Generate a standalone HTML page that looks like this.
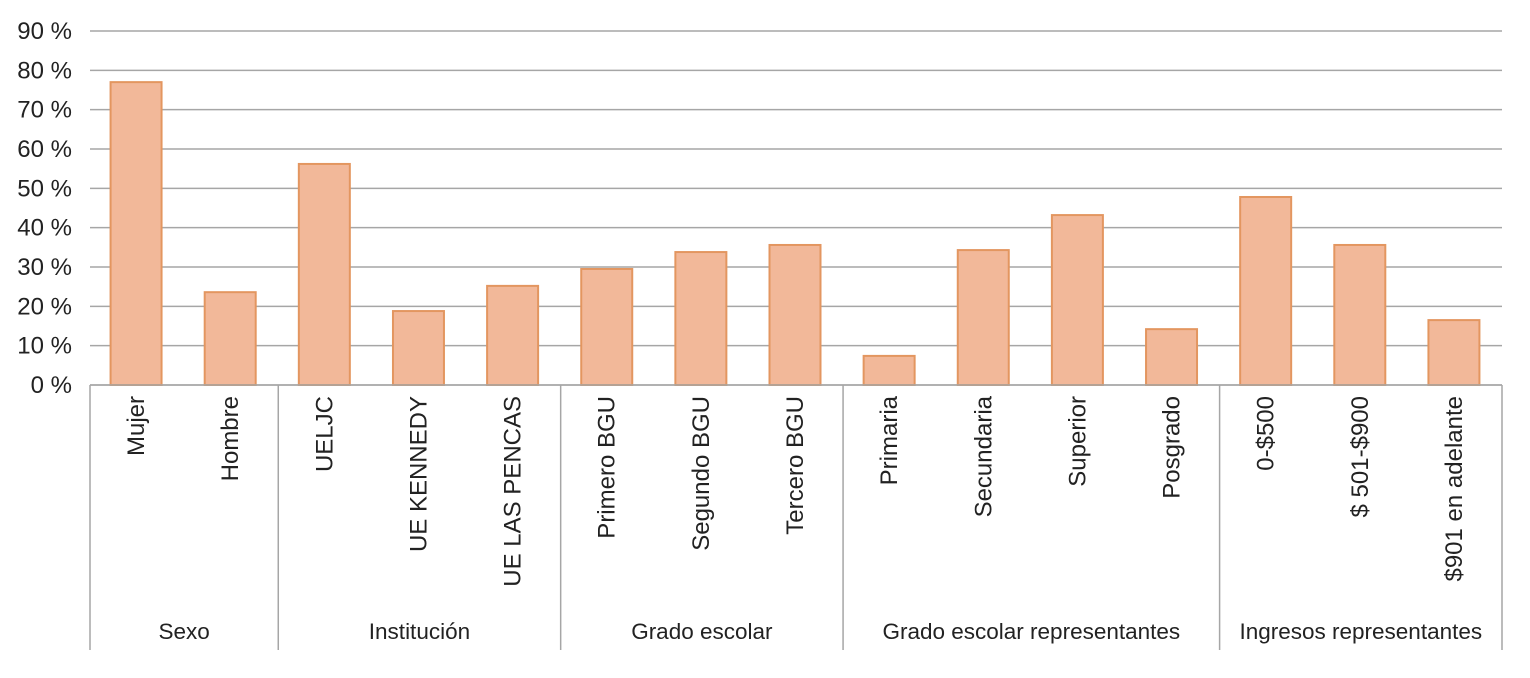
<!DOCTYPE html>
<html><head><meta charset="utf-8">
<style>
html,body{margin:0;padding:0;background:#fff;}
svg{display:block;font-family:"Liberation Sans",sans-serif;}
</style></head>
<body>
<svg id="chart" width="1530" height="678" viewBox="0 0 1530 678" xmlns="http://www.w3.org/2000/svg"></svg>
<script>
const categories = ["Mujer","Hombre","UELJC","UE KENNEDY","UE LAS PENCAS","Primero BGU","Segundo BGU","Tercero BGU","Primaria","Secundaria","Superior","Posgrado","0-$500","$ 501-$900","$901 en adelante"];
const values = [77, 23.6, 56.2, 18.8, 25.2, 29.5, 33.8, 35.6, 7.4, 34.3, 43.2, 14.2, 47.8, 35.6, 16.5];
const groupNames = ["Sexo","Institución","Grado escolar","Grado escolar representantes","Ingresos representantes"];
const groupSizes = [2, 3, 3, 4, 3];
const yTicks = [0,10,20,30,40,50,60,70,80,90];

const svg = document.getElementById('chart');
const NS = "http://www.w3.org/2000/svg";
const left = 90, right = 1502, y0 = 385, yTop = 31, yMax = 90;
const slot = (right-left)/categories.length;
const barW = 51;
function y(v){ return y0 - v/yMax*(y0-yTop); }
function xc(i){ return left + slot*(i+0.5); }
function mk(tag, attrs, parent){ const e=document.createElementNS(NS,tag); for(const k in attrs) e.setAttribute(k,attrs[k]); (parent||svg).appendChild(e); return e; }

yTicks.forEach(t=>{
  const g = mk('line',{x1:left,x2:right,y1:y(t),y2:y(t),stroke:'#a6a6a6','stroke-width':1.5});
  
  
  const tx = mk('text',{x:72,y:y(t)+8,'font-size':24,'text-anchor':'end',fill:'#222'});
  tx.textContent = t+' %';
  
  
});

values.forEach((v,i)=>{
  const r = mk('rect',{x:xc(i)-barW/2-1,y:y(v),width:barW,height:y0-y(v),fill:'#F2B899',stroke:'#E39660','stroke-width':2});
  
  
  const t = mk('text',{transform:`translate(${xc(i)+7},396) rotate(-90)`,'font-size':24,'text-anchor':'end',fill:'#222'});
  t.textContent = categories[i];
  
  
});

mk('line',{x1:left,x2:right,y1:y0,y2:y0,stroke:'#a6a6a6','stroke-width':1.5});
let idx = 0;
const bounds=[left];
groupSizes.forEach((n,g)=>{
  const xs = left + slot*idx, xe = left + slot*(idx+n);
  const lab = mk('text',{x:(xs+xe)/2,y:639,'font-size':22.5,'text-anchor':'middle',fill:'#222'});
  lab.textContent = groupNames[g];
  
  
  idx += n; bounds.push(xe);
});
bounds.forEach(bx=>{
  const l = mk('line',{x1:bx,x2:bx,y1:y0,y2:650,stroke:'#a6a6a6','stroke-width':1.5});
  
  
});
</script>
</body></html>
